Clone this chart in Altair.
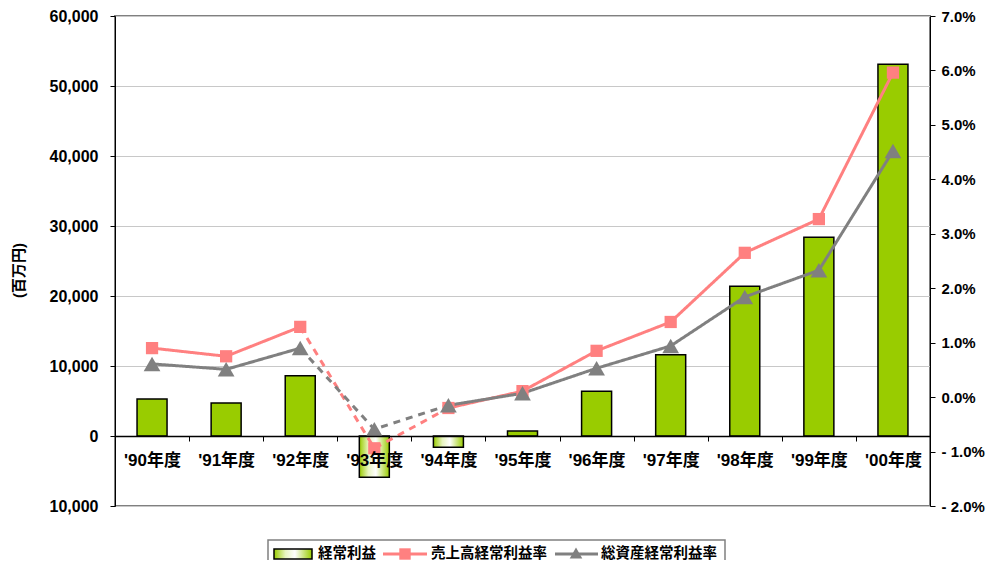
import altair as alt
import pandas as pd

years = ["'90年度", "'91年度", "'92年度", "'93年度", "'94年度", "'95年度",
         "'96年度", "'97年度", "'98年度", "'99年度", "'00年度"]
profit = [5300, 4700, 8600, -5900, -1600, 700, 6400, 11600, 21400, 28400, 53100]
sales_ratio = [0.90, 0.75, 1.29, -0.94, -0.20, 0.11, 0.85, 1.38, 2.65, 3.27, 5.96]
asset_ratio = [0.61, 0.51, 0.90, -0.59, -0.15, 0.07, 0.53, 0.94, 1.84, 2.33, 4.52]
series_names = ["売上高経常利益率", "総資産経常利益率"]
series_colors = ["#FF8080", "#808080"]
bar_label = "経常利益"

FONT = "Liberation Sans, Noto Sans CJK JP"
GREEN = "#99CC00"

bars_df = pd.DataFrame({"year": years, "profit": profit})

segments = [(0, 2, "solid"), (2, 4, "dashed"), (4, 10, "solid")]
line_rows, point_rows = [], []
for name, vals in zip(series_names, [sales_ratio, asset_ratio]):
    for si, (a, b, kind) in enumerate(segments):
        for i in range(a, b + 1):
            line_rows.append({"series": name, "seg": f"{name}-{si}", "dash": kind,
                              "year": years[i], "idx": i, "val": vals[i]})
    for i, v in enumerate(vals):
        point_rows.append({"series": name, "year": years[i], "val": v})
lines_df = pd.DataFrame(line_rows)
points_df = pd.DataFrame(point_rows)

grad = alt.LinearGradient(
    gradient="linear", x1=0, x2=1, y1=0, y2=0,
    stops=[alt.GradientStop(color=GREEN, offset=0),
           alt.GradientStop(color="#E8F5C0", offset=0.3),
           alt.GradientStop(color="#FFFFFF", offset=0.55),
           alt.GradientStop(color=GREEN, offset=1)])

yleft = alt.Scale(domain=[-10000, 60000], nice=False, zero=False)
yright = alt.Scale(domain=[-2, 7], nice=False, zero=False)

left_axis = alt.Axis(
    values=[-10000, 0, 10000, 20000, 30000, 40000, 50000, 60000],
    labelExpr="format(abs(datum.value), ',')",
    title="(百万円)", titleX=-97, titleY=254, titleAngle=-90,
    titleAlign="center", titleBaseline="middle", titleFontSize=15,
    titleFontWeight="bold", titleFont=FONT, titleColor="#000",
    labelFontSize=16, labelFont=FONT, labelFontWeight="bold", labelColor="#000",
    labelPadding=12, tickSize=5, tickColor="#000", domainColor="#000",
    grid=True, gridColor="#C8C8C8", gridWidth=1.2)

bars_pos = alt.Chart(bars_df).transform_filter("datum.profit >= 0").mark_bar(
    size=30, color=GREEN, stroke="#000", strokeWidth=1.5).encode(
    x=alt.X("year:N", sort=years, scale=alt.Scale(paddingInner=0, paddingOuter=0),
            axis=alt.Axis(title=None, labelAngle=0, labelFontSize=17, labelFont=FONT,
                          labelFontWeight="bold", labelColor="#000", labelPadding=11,
                          offset=-70, tickBand="extent", tickSize=5, tickColor="#000",
                          domainColor="#000", domainWidth=1.5, zindex=1)),
    y=alt.Y("profit:Q", scale=yleft, axis=left_axis),
)
bars_neg = alt.Chart(bars_df).transform_filter("datum.profit < 0").mark_bar(
    size=30, color=grad, stroke="#000", strokeWidth=1.5).encode(
    x=alt.X("year:N", sort=years),
    y=alt.Y("profit:Q", scale=yleft),
)

right_axis = alt.Axis(
    orient="right", values=[-2, -1, 0, 1, 2, 3, 4, 5, 6, 7],
    labelExpr="datum.value < 0 ? '- ' + format(-datum.value, '.1f') + '%' : format(datum.value, '.1f') + '%'",
    title=None, labelFontSize=15, labelFont=FONT, labelFontWeight="bold",
    labelColor="#000", labelPadding=6, tickSize=5, tickColor="#000",
    domainColor="#000", grid=False)

lines = alt.Chart(lines_df).mark_line(strokeWidth=3).encode(
    x=alt.X("year:N", sort=years),
    y=alt.Y("val:Q", scale=yright, axis=right_axis),
    color=alt.Color("series:N", scale=alt.Scale(domain=series_names, range=series_colors), legend=None),
    detail="seg:N",
    strokeDash=alt.StrokeDash("dash:N", scale=alt.Scale(domain=["solid", "dashed"], range=[[1, 0], [7, 6]]), legend=None),
    order="idx:Q",
)
points = alt.Chart(points_df).mark_point(filled=True, opacity=1).encode(
    x=alt.X("year:N", sort=years),
    y=alt.Y("val:Q", scale=yright),
    color=alt.Color("series:N", scale=alt.Scale(domain=series_names, range=series_colors), legend=None),
    shape=alt.Shape("series:N", scale=alt.Scale(domain=series_names, range=["square", "triangle-up"]), legend=None),
    size=alt.Size("series:N", scale=alt.Scale(domain=series_names, range=[150, 280]), legend=None),
)

# manual legend (positions in plot-area pixels)
one = pd.DataFrame({"k": [0]})
base = alt.Chart(one)
leg_box = base.mark_rect(fill="#FFFFFF", stroke="#808080", strokeWidth=1.5).encode(
    x=alt.value(153), x2=alt.value(610), y=alt.value(524), y2=alt.value(580))
leg_swatch = base.mark_rect(color=grad, stroke="#000", strokeWidth=1.5).encode(
    x=alt.value(159), x2=alt.value(197), y=alt.value(533), y2=alt.value(543))
leg_pink = base.mark_rule(color=series_colors[0], strokeWidth=3).encode(
    x=alt.value(268), x2=alt.value(312), y=alt.value(538))
leg_pink_pt = base.mark_point(shape="square", filled=True, opacity=1, color=series_colors[0], size=130).encode(
    x=alt.value(290), y=alt.value(538))
leg_gray = base.mark_rule(color=series_colors[1], strokeWidth=3).encode(
    x=alt.value(440), x2=alt.value(483), y=alt.value(538))
leg_gray_pt = base.mark_point(shape="triangle-up", filled=True, opacity=1, color=series_colors[1], size=160).encode(
    x=alt.value(461), y=alt.value(537))

def leg_text(t, x):
    return alt.Chart(pd.DataFrame({"t": [t]})).mark_text(
        align="left", baseline="middle", font=FONT, fontSize=14.5, fontWeight="bold", color="#000").encode(
        x=alt.value(x), y=alt.value(538), text="t:N")

left_layer = alt.layer(bars_pos, bars_neg)
right_layer = alt.layer(lines, points)
chart = alt.layer(left_layer, right_layer).resolve_scale(y="independent")
chart = alt.layer(chart, leg_box, leg_swatch, leg_pink, leg_pink_pt, leg_gray, leg_gray_pt,
                  leg_text(bar_label, 203), leg_text(series_names[0], 316),
                  leg_text(series_names[1], 486)).resolve_scale(y="independent")

chart = chart.properties(
    width=815, height=490,
    autosize=alt.AutoSizeParams(type="none"),
    padding={"left": 107, "top": 8, "right": 56, "bottom": 54},
).configure_view(stroke="#808080", strokeWidth=2)

chart.save("out.html", embed_options={"renderer": "svg", "actions": False})
